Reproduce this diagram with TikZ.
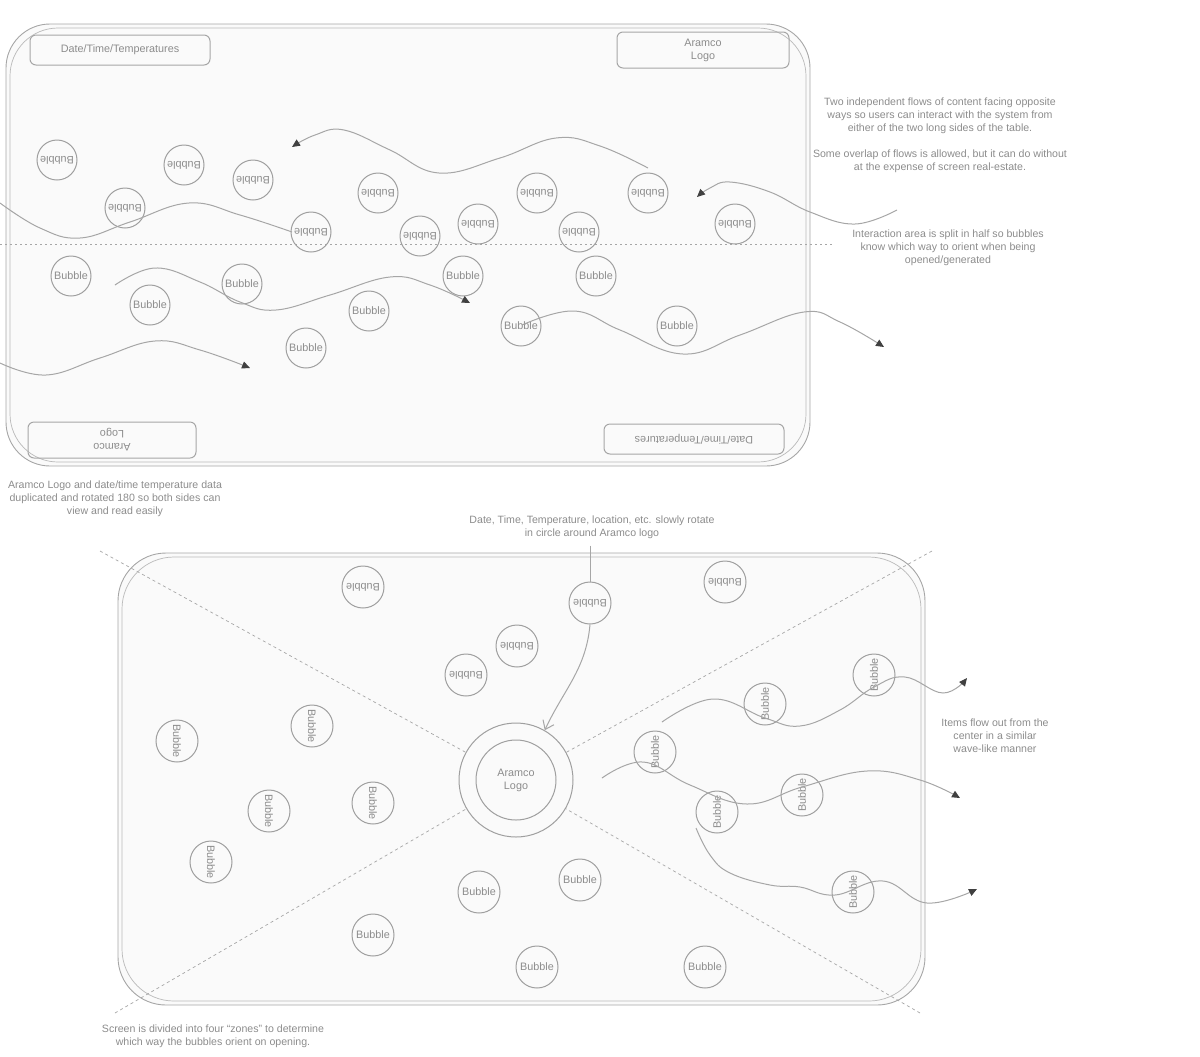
\documentclass[tikz,border=0pt]{standalone}
\usepackage{fontspec}
\setmainfont{Liberation Sans}
\usetikzlibrary{arrows.meta}
\usetikzlibrary{calc}

\begin{document}
\begin{tikzpicture}[x=0.5pt, y=-0.5pt,
  panel/.style={draw=gray!70, line width=0.45pt, fill=gray!4},
  panelb/.style={draw=gray!55, line width=0.35pt},
  infobox/.style={draw=gray!70, line width=0.5pt, rounded corners=3pt, minimum width=90pt, minimum height=15pt, align=center, font=\fontsize{5.4}{6.5}\selectfont, text=gray!90},
  bubble/.style={circle, draw=gray!75, line width=0.5pt, minimum size=20pt, inner sep=0pt, font=\fontsize{5.4}{6.5}\selectfont, text=gray!90},
  bigbub/.style={bubble, minimum size=21pt},
  note/.style={align=center, font=\fontsize{5.3}{6.5}\selectfont, text=gray!90},
  wave/.style={draw=gray!70, line width=0.5pt},
  flow/.style={wave, -{Triangle[length=4pt, width=3.6pt, color=gray!50!black]}},
  zone/.style={draw=gray!70, line width=0.35pt, dash pattern=on 1.5pt off 1.5pt}]
\useasboundingbox (0,0) rectangle (1200,1056);

% upper table: two opposite flows
\draw[panel, rounded corners=22pt] (6,24) rectangle (810,466);
\draw[panelb, rounded corners=24pt] (10,28) rectangle (806,462);
\draw[zone, dash pattern=on 1pt off 1.5pt] (0,244) -- (832,244);

\node[infobox] (datetop) at (120,50) {Date/Time/Temperatures};
\node[infobox, minimum width=86pt] (logotop) at (703,50) {Aramco\\Logo};
\node[infobox, minimum width=84pt, rotate=180] (logobot) at (112,440) {Aramco\\Logo};
\node[infobox, rotate=180] (datebot) at (694,439) {Date/Time/Temperatures};

% bubbles facing the far side
\node[bubble, rotate=180] (tb1) at (57,160) {Bubble};
\node[bubble, rotate=180] (tb2) at (184,165) {Bubble};
\node[bubble, rotate=180] (tb3) at (253,180) {Bubble};
\node[bubble, rotate=180] (tb4) at (125,208) {Bubble};
\node[bubble, rotate=180] (tb5) at (378,193) {Bubble};
\node[bubble, rotate=180] (tb6) at (537,193) {Bubble};
\node[bubble, rotate=180] (tb7) at (648,193) {Bubble};
\node[bubble, rotate=180] (tb8) at (311,232) {Bubble};
\node[bubble, rotate=180] (tb9) at (420,236) {Bubble};
\node[bubble, rotate=180] (tb10) at (478,224) {Bubble};
\node[bubble, rotate=180] (tb11) at (579,232) {Bubble};
\node[bubble, rotate=180] (tb12) at (735,224) {Bubble};

% bubbles facing the near side
\node[bubble] (lb1) at (71,276) {Bubble};
\node[bubble] (lb2) at (150,305) {Bubble};
\node[bubble] (lb3) at (242,284) {Bubble};
\node[bubble] (lb4) at (306,348) {Bubble};
\node[bubble] (lb5) at (369,311) {Bubble};
\node[bubble] (lb6) at (463,276) {Bubble};
\node[bubble] (lb7) at (596,276) {Bubble};
\node[bubble] (lb8) at (521,326) {Bubble};
\node[bubble] (lb9) at (677,326) {Bubble};

\draw[flow] plot[smooth, tension=0.7] coordinates {(648,168) (600,146) (556,138) (500,158) (439,173) (390,150) (344,130) (315,135) (292,147)};
\draw[flow] plot[smooth, tension=0.7] coordinates {(897,210) (855,224) (810,212) (770,192) (730,182) (710,188) (697,197)};
\draw[wave] plot[smooth, tension=0.7] coordinates {(0,203) (40,228) (80,238) (130,222) (189,203) (240,215) (292,232)};
\draw[flow] plot[smooth, tension=0.7] coordinates {(115,285) (155,268) (200,282) (240,302) (276,310) (330,295) (390,277) (430,285) (470,303)};
\draw[flow] plot[smooth, tension=0.7] coordinates {(0,363) (46,375) (100,358) (155,341) (200,350) (250,368)};
\draw[flow] plot[smooth, tension=0.7] coordinates {(522,325) (574,311) (620,330) (683,354) (740,335) (804,312) (840,322) (884,347)};

\node[note] (flownote) at (940,135) {Two independent flows of content facing opposite\\ways so users can interact with the system from\\either of the two long sides of the table.\\[6.5pt]Some overlap of flows is allowed, but it can do without\\at the expense of screen real-estate.};
\node[note] (splitnote) at (948,248) {Interaction area is split in half so bubbles\\know which way to orient when being\\opened/generated};
\node[note] (dupnote) at (115,499) {Aramco Logo and date/time temperature data\\duplicated and rotated 180 so both sides can\\view and read easily};

% lower table: four zones round the logo
\draw[panel, rounded corners=24pt] (118,553) rectangle (925,1005);
\draw[panelb, rounded corners=26pt] (122,557) rectangle (921,1001);

\node[circle, draw=gray!75, line width=0.5pt, minimum size=57pt, inner sep=0pt] (logo) at (516,780) {};
\node[circle, draw=gray!75, line width=0.5pt, minimum size=40pt, inner sep=0pt, align=center, font=\fontsize{5.4}{6.5}\selectfont, text=gray!90] (logoin) at (516,780) {Aramco\\Logo};

\coordinate (znw) at (100,551);
\coordinate (zne) at (932,551);
\coordinate (zsw) at (115,1013);
\coordinate (zse) at (920,1013);
\draw[zone] (znw) -- (logo);
\draw[zone] (zne) -- (logo);
\draw[zone] (zsw) -- (logo);
\draw[zone] (zse) -- (logo);

% top zone
\node[bigbub, rotate=180] (bt1) at (363,587) {Bubble};
\node[bigbub, rotate=180] (bt2) at (725,582) {Bubble};
\node[bigbub, rotate=180] (ringbub) at (590,603) {Bubble};
\node[bigbub, rotate=180] (bt4) at (517,646) {Bubble};
\node[bigbub, rotate=180] (bt5) at (466,675) {Bubble};
% left zone
\node[bigbub, rotate=-90] (bl1) at (177,741) {Bubble};
\node[bigbub, rotate=-90] (bl2) at (312,726) {Bubble};
\node[bigbub, rotate=-90] (bl3) at (269,811) {Bubble};
\node[bigbub, rotate=-90] (bl4) at (373,803) {Bubble};
\node[bigbub, rotate=-90] (bl5) at (211,862) {Bubble};
% right zone
\node[bigbub, rotate=90] (br1) at (655,752) {Bubble};
\node[bigbub, rotate=90] (br2) at (765,704) {Bubble};
\node[bigbub, rotate=90] (br3) at (874,675) {Bubble};
\node[bigbub, rotate=90] (br4) at (717,812) {Bubble};
\node[bigbub, rotate=90] (br5) at (802,795) {Bubble};
\node[bigbub, rotate=90] (br6) at (853,892) {Bubble};
% bottom zone
\node[bigbub] (bb1) at (479,892) {Bubble};
\node[bigbub] (bb2) at (580,880) {Bubble};
\node[bigbub] (bb3) at (373,935) {Bubble};
\node[bigbub] (bb4) at (537,967) {Bubble};
\node[bigbub] (bb5) at (705,967) {Bubble};

\draw[flow] plot[smooth, tension=0.7] coordinates {(662,722) (713,699) (765,718) (800,726) (840,710) (874,687) (905,677) (943,693) (967,678)};
\draw[flow] plot[smooth, tension=0.7] coordinates {(602,778) (643,762) (690,785) (747,804) (802,787) (867,771) (920,780) (960,798)};
\draw[flow] plot[smooth, tension=0.7] coordinates {(696,828) (710,855) (730,873) (770,885) (800,887) (835,895) (883,881) (927,903) (977,889)};

\node[note] (rotnote) at (592,527) {Date, Time, Temperature, location, etc. slowly rotate\\in circle around Aramco logo};
\draw[wave] (rotnote.south -| ringbub.south) -- (ringbub.south);
\draw[wave, -{Straight Barb[length=4pt, width=6pt]}] (ringbub.north) to[out=-95, in=65] (logo.60);
\node[note] (itemnote) at (995,736) {Items flow out from the\\center in a similar\\wave-like manner};
\node[note] (zonenote) at (213,1036) {Screen is divided into four ``zones'' to determine\\which way the bubbles orient on opening.};
\end{tikzpicture}
\end{document}
